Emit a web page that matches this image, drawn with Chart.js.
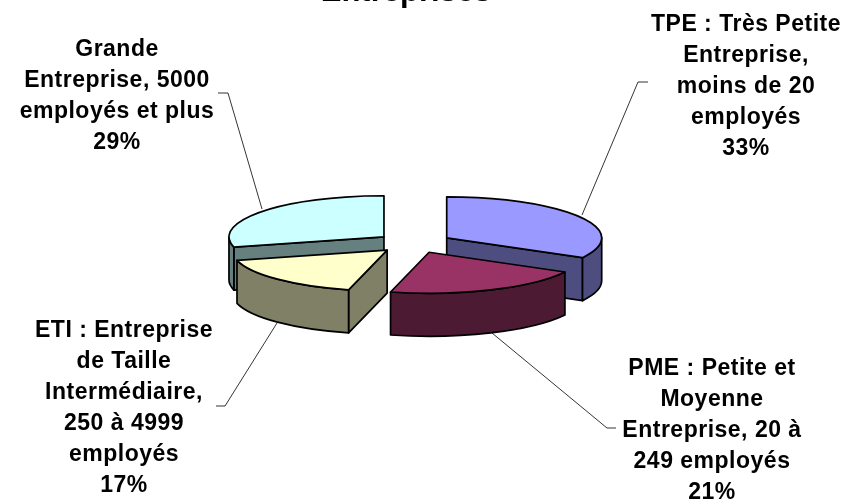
<!DOCTYPE html>
<html>
<head>
<meta charset="utf-8">
<title>Entreprises</title>
<script src="https://cdn.jsdelivr.net/npm/chart.js@4"></script>
<style>
    html, body { margin: 0; padding: 0; background: #fff; overflow: hidden; }
    canvas { display: block; }
</style>
</head>
<body>
<canvas id="pieChart" width="852" height="504"></canvas>
<script>
// data
const categories = ['TPE', 'PME', 'ETI', 'Grande Entreprise'];
const shares = [33, 21, 17, 29];
const labelTexts = [
    ['TPE : Très Petite', 'Entreprise,', 'moins de 20', 'employés'],
    ['PME : Petite et', 'Moyenne', 'Entreprise, 20 à', '249 employés'],
    ['ETI : Entreprise', 'de Taille', 'Intermédiaire,', '250 à 4999', 'employés'],
    ['Grande', 'Entreprise, 5000', 'employés et plus']
];
const titleText = 'Entreprises';

const topColors = ['#9999ff', '#993366', '#ffffcc', '#ccffff'];
const wallColors = ['#4d4d80', '#4d1a33', '#808066', '#668080'];

// fake 3D settings
const squash = 0.265;
const depth = 43;
const explode = 38;

// where the labels and leader lines sit
const labelPlaces = [
    { x: 746, y: 31 },
    { x: 712, y: 375 },
    { x: 124, y: 337 },
    { x: 117, y: 56 }
];
const leaderLines = [
    [[648, 82], [638, 82], [582, 215]],
    [[616, 428], [607, 428], [492, 333]],
    [[216, 406], [225, 406], [277, 323]],
    [[218, 93], [228, 93], [262, 209]]
];

function drawLeaders(ctx) {
    ctx.strokeStyle = '#000';
    ctx.lineWidth = 0.8;
    leaderLines.forEach(pts => {
        ctx.beginPath();
        pts.forEach((p, i) => i ? ctx.lineTo(p[0], p[1]) : ctx.moveTo(p[0], p[1]));
        ctx.stroke();
    });
}

function drawSlice(ctx, arc, index) {
    const { x, y, startAngle, endAngle, outerRadius } = arc.getProps(['x', 'y', 'startAngle', 'endAngle', 'outerRadius']);
    const mid = (startAngle + endAngle) / 2;
    const cx = x + Math.cos(mid) * explode;
    const cy = y + Math.sin(mid) * explode * squash;
    const ry = outerRadius * squash;
    const rimX = a => cx + Math.cos(a) * outerRadius;
    const rimY = a => cy + Math.sin(a) * ry;

    ctx.lineWidth = 1.7;
    ctx.lineJoin = 'round';
    ctx.strokeStyle = '#000';
    ctx.fillStyle = wallColors[index];

    // cut faces, only the ones turned towards the viewer
    [[startAngle, Math.cos(startAngle) < -0.001], [endAngle, Math.cos(endAngle) > 0.001]].forEach(([a, visible]) => {
        if (!visible) return;
        ctx.beginPath();
        ctx.moveTo(cx, cy);
        ctx.lineTo(rimX(a), rimY(a));
        ctx.lineTo(rimX(a), rimY(a) + depth);
        ctx.lineTo(cx, cy + depth);
        ctx.closePath();
        ctx.fill();
        ctx.stroke();
    });

    // outer wall, front half of the ellipse only
    const from = Math.max(startAngle, 0);
    const to = Math.min(endAngle, Math.PI);
    if (to > from) {
        ctx.beginPath();
        ctx.ellipse(cx, cy, outerRadius, ry, 0, from, to);
        ctx.ellipse(cx, cy + depth, outerRadius, ry, 0, to, from, true);
        ctx.closePath();
        ctx.fill();
        ctx.stroke();
    }

    // top face is the library's own arc, squashed and moved out
    ctx.save();
    ctx.translate(cx, cy);
    ctx.scale(1, squash);
    ctx.translate(-x, -y);
    arc.draw(ctx);
    ctx.restore();

    ctx.beginPath();
    ctx.moveTo(cx, cy);
    ctx.ellipse(cx, cy, outerRadius, ry, 0, startAngle, endAngle);
    ctx.closePath();
    ctx.stroke();
}

function drawLabels(ctx) {
    ctx.fillStyle = '#000';
    ctx.textAlign = 'center';
    ctx.textBaseline = 'alphabetic';
    ctx.font = 'bold 23px "Liberation Sans"';
    ctx.letterSpacing = '0.5px';
    labelTexts.forEach((lines, i) => {
        const rows = lines.concat(shares[i] + '%');
        rows.forEach((row, r) => ctx.fillText(row, labelPlaces[i].x, labelPlaces[i].y + r * 31));
    });
    ctx.font = 'bold 31px "Liberation Sans"';
    ctx.letterSpacing = '0px';
    ctx.fillText(titleText, 406, 1);
}

const pie3d = {
    id: 'pie3d',
    beforeDatasetsDraw(chart) {
        const ctx = chart.ctx;
        const arcs = chart.getDatasetMeta(0).data;
        drawLeaders(ctx);
        // back slices first, the front ones cover them
        [3, 0, 2, 1].forEach(i => drawSlice(ctx, arcs[i], i));
        drawLabels(ctx);
        return false;
    }
};

new Chart(document.getElementById('pieChart').getContext('2d'), {
    type: 'pie',
    data: {
        labels: categories,
        datasets: [{
            data: shares,
            backgroundColor: topColors,
            borderWidth: 0,
            radius: 155
        }]
    },
    options: {
        responsive: false,
        animation: false,
        layout: { padding: { right: 24, bottom: 18 } },
        plugins: {
            legend: { display: false },
            tooltip: { enabled: false }
        }
    },
    plugins: [pie3d]
});
</script>
</body>
</html>
